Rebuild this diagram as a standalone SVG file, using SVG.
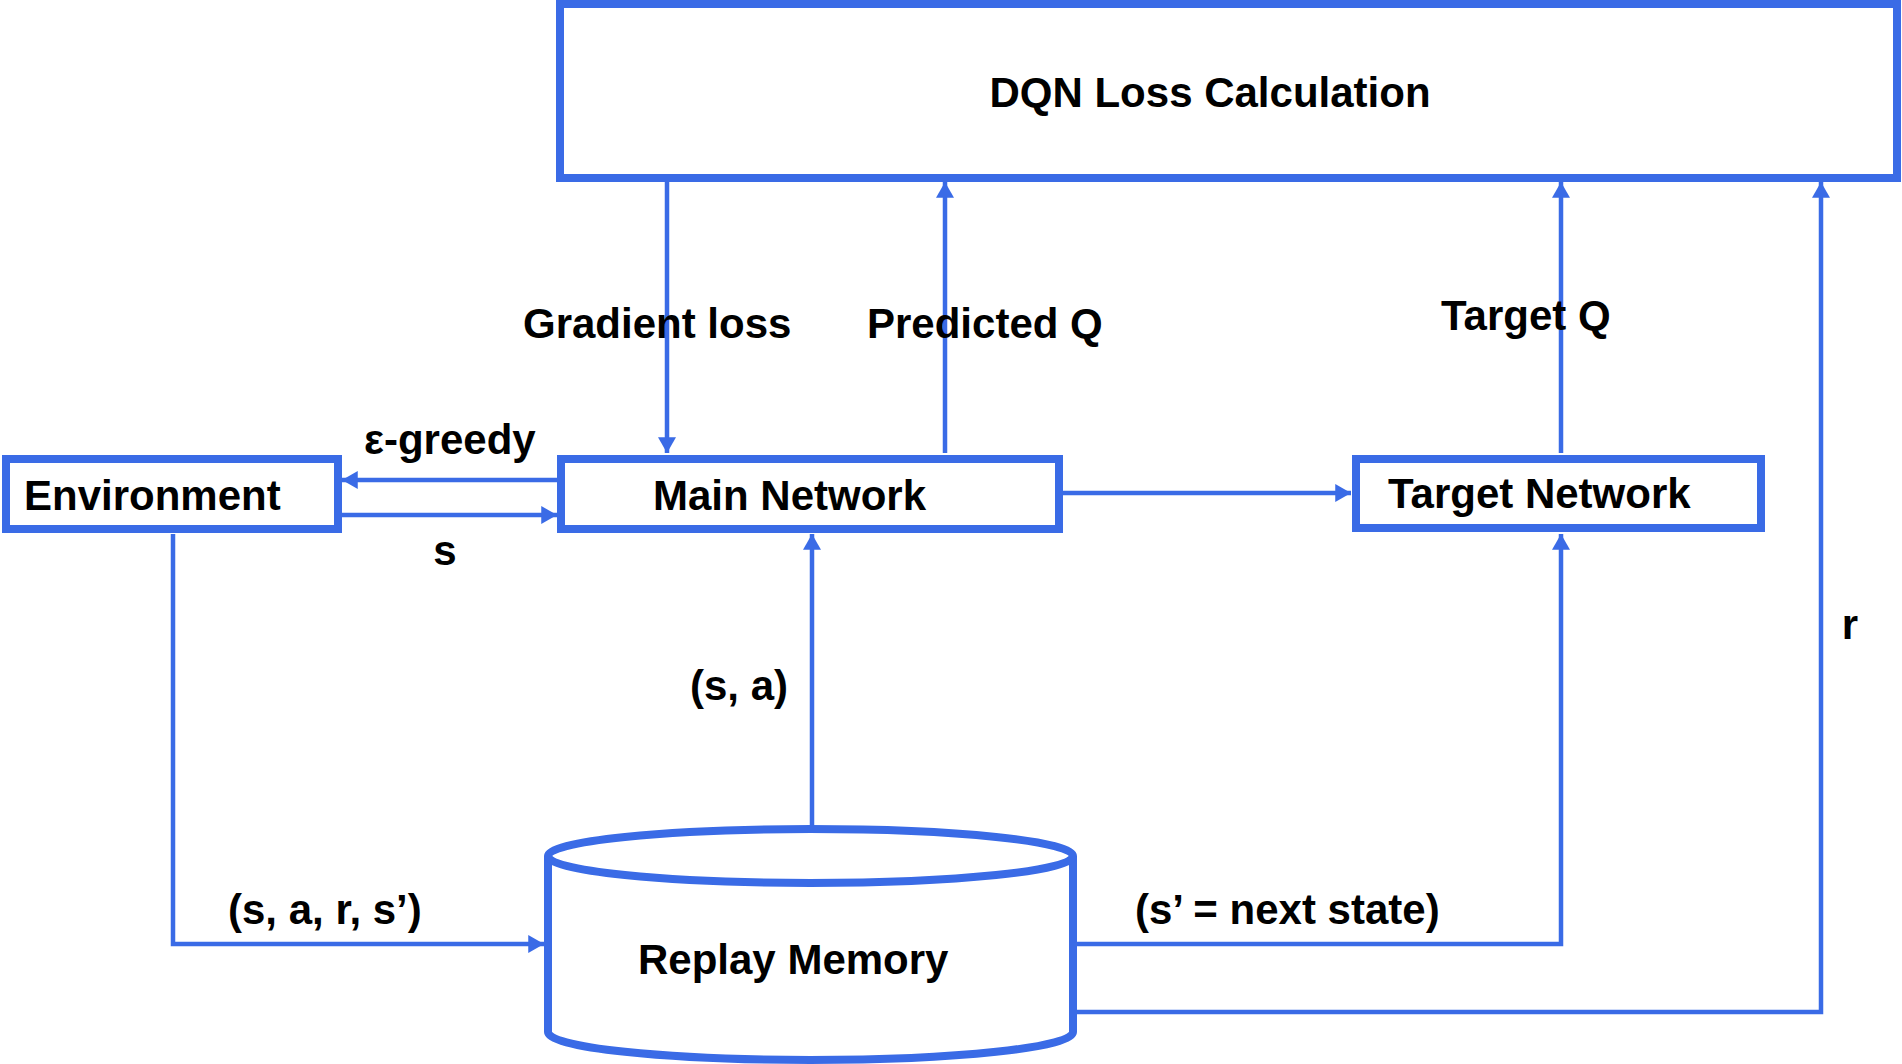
<svg xmlns="http://www.w3.org/2000/svg" width="1902" height="1064" viewBox="0 0 1902 1064">
<defs>
<style>
.node{fill:#ffffff;stroke:#3a6be6;stroke-width:8}
.conn{fill:none;stroke:#3a6be6;stroke-width:4.5}
.t{font-family:"Liberation Sans",Arial,sans-serif;font-weight:bold;font-size:42px;fill:#000000}
</style>
<marker id="arr" markerUnits="userSpaceOnUse" markerWidth="16" markerHeight="18" viewBox="0 0 14 16" refX="14" refY="8" orient="auto">
<path d="M0,0 L14,8 L0,16 Z" fill="#3a6be6"/>
</marker>
</defs>
<rect width="1902" height="1064" fill="#ffffff"/>
<g id="connectors">
<line class="conn" x1="667" y1="182" x2="667" y2="453" marker-end="url(#arr)"/>
<line class="conn" x1="945" y1="453" x2="945" y2="182" marker-end="url(#arr)"/>
<line class="conn" x1="1561" y1="453" x2="1561" y2="182" marker-end="url(#arr)"/>
<polyline class="conn" points="1077,1012 1821,1012 1821,182" marker-end="url(#arr)"/>
<polyline class="conn" points="1077,944 1561,944 1561,534" marker-end="url(#arr)"/>
<line class="conn" x1="812" y1="825" x2="812" y2="534" marker-end="url(#arr)"/>
<line class="conn" x1="1063" y1="493" x2="1351" y2="493" marker-end="url(#arr)"/>
<line class="conn" x1="557" y1="480" x2="342" y2="480" marker-end="url(#arr)"/>
<line class="conn" x1="342" y1="515" x2="557" y2="515" marker-end="url(#arr)"/>
<polyline class="conn" points="173,534 173,944 544,944" marker-end="url(#arr)"/>
<text class="t" x="523" y="338">Gradient loss</text>
<text class="t" x="867" y="338">Predicted Q</text>
<text class="t" x="1441" y="330">Target Q</text>
<text class="t" x="364" y="454">ε-greedy</text>
<text class="t" x="445" y="565" text-anchor="middle">s</text>
<text class="t" x="690" y="700">(s,  a)</text>
<text class="t" x="228" y="924">(s, a, r, s’)</text>
<text class="t" x="1135" y="924">(s’ = next state)</text>
<text class="t" x="1850" y="639" text-anchor="middle">r</text>
</g>
<g id="dqn">
<rect class="node" x="560" y="4" width="1337" height="174"/>
<text class="t" x="1210" y="107" text-anchor="middle">DQN Loss Calculation</text>
</g>
<g id="environment">
<rect class="node" x="6" y="459" width="332" height="70"/>
<text class="t" x="24" y="510">Environment</text>
</g>
<g id="main-network">
<rect class="node" x="561" y="459" width="498" height="70"/>
<text class="t" x="653" y="510">Main Network</text>
</g>
<g id="target-network">
<rect class="node" x="1356" y="459" width="405" height="69"/>
<text class="t" x="1388" y="508">Target Network</text>
</g>
<g id="replay-memory">
<path class="node" d="M548,856 L548,1032 A262.5,28 0 0 0 1073,1032 L1073,856 A262.5,27 0 0 0 548,856 Z"/>
<path class="node" d="M548,856 A262.5,27 0 0 0 1073,856" fill="none"/>
<text class="t" x="638" y="974">Replay Memory</text>
</g>
</svg>
